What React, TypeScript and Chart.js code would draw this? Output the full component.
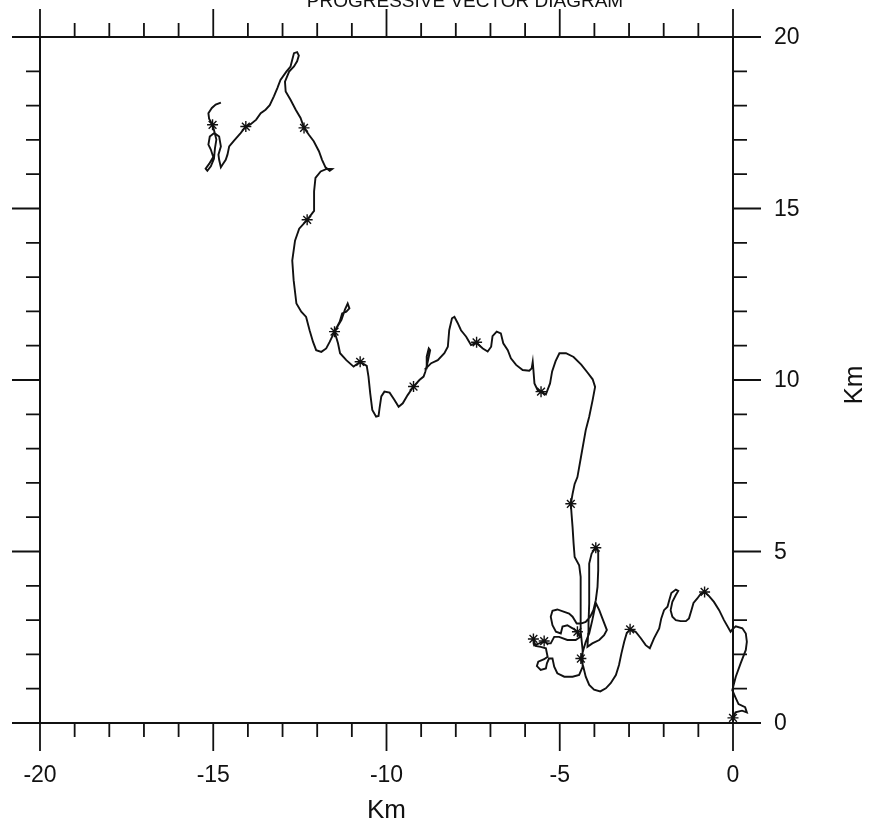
import { useEffect, useRef } from 'react';
import { Chart, registerables } from 'chart.js';

Chart.register(...registerables);

// Progressive vector track (km east, km north), in order from the origin
const pathX = [
  0, 0.07, 0.26, 0.40, 0.35, 0.16, 0.07, -0.02, 0.08, 0.22, 0.37, 0.40, 0.37, 0.27, 0.08, -0.02, -0.07,
  -0.26, -0.40, -0.55, -0.69, -0.82,
  -0.93, -1.03, -1.14, -1.20, -1.27, -1.36, -1.51, -1.65, -1.75, -1.80, -1.75, -1.65, -1.58, -1.65, -1.78, -1.84, -1.89, -1.99, -2.07, -2.13, -2.28, -2.40, -2.52, -2.66, -2.81, -2.97,
  -3.07, -3.14, -3.22, -3.29, -3.38, -3.53, -3.67, -3.83, -4.01, -4.15, -4.25, -4.32, -4.39,
  -4.32, -4.25, -4.15, -4.06, -3.98, -3.95, -3.86, -3.77, -3.64, -3.72, -3.86, -4.06, -4.20,
  -4.18, -4.17, -4.15, -4.15, -4.15, -4.08, -3.96, -3.89, -3.89, -3.91, -3.96, -4.03, -4.12, -4.25, -4.39, -4.51,
  -4.63, -4.73, -4.87, -5.07, -5.21, -5.26, -5.21, -5.11, -4.97, -4.92, -4.78, -4.63, -4.49,
  -4.42, -4.54, -4.78, -5.02, -5.16, -5.26, -5.35, -5.45, -5.59, -5.74, -5.76, -5.70, -5.55, -5.40,
  -5.35, -5.45, -5.62, -5.66, -5.55, -5.40, -5.37, -5.31, -5.21, -5.16, -5.07, -4.87, -4.63, -4.44, -4.34,
  -4.34, -4.39, -4.39, -4.39, -4.41, -4.44, -4.57, -4.60, -4.63, -4.66, -4.68, -4.63, -4.57, -4.49, -4.38,
  -4.25, -4.15, -4.05, -3.98, -4.05, -4.20, -4.38, -4.60, -4.82, -5.01, -5.12, -5.22, -5.28, -5.40, -5.54,
  -5.64, -5.73, -5.76, -5.78, -5.81, -5.88, -6.07, -6.26, -6.41, -6.50, -6.63, -6.70, -6.82, -6.94,
  -6.98, -7.08, -7.22, -7.40, -7.56, -7.70, -7.85, -7.95, -8.04, -8.11, -8.19, -8.23, -8.33, -8.52,
  -8.71, -8.86, -8.84, -8.78, -8.74, -8.81, -8.88, -8.93, -9.05, -9.22, -9.39, -9.53, -9.65, -9.77,
  -9.91, -10.06, -10.15, -10.20, -10.23, -10.30, -10.41, -10.47, -10.52, -10.57, -10.76, -10.95, -11.16,
  -11.34, -11.40, -11.50, -11.35, -11.28, -11.16, -11.07, -11.12, -11.20, -11.30, -11.50,
  -11.64, -11.74, -11.88, -12.03, -12.12, -12.22, -12.32, -12.46, -12.60, -12.68, -12.72, -12.64, -12.52, -12.29,
  -12.09, -12.09, -12.05, -11.90, -11.71, -11.57, -11.64, -11.76, -11.86, -11.95, -12.10, -12.24, -12.38,
  -12.48, -12.62, -12.77, -12.91, -12.93, -12.81, -12.67, -12.58, -12.53, -12.58, -12.67, -12.72, -12.77,
  -12.89, -13.06, -13.15, -13.25, -13.37, -13.49, -13.63, -13.76, -13.92, -14.06, -14.21, -14.40, -14.54,
  -14.59, -14.64, -14.73, -14.78, -14.83, -14.85, -14.78, -14.83, -14.97, -15.10, -15.14, -15.07, -15.00,
  -15.12, -15.22, -15.17, -15.07, -14.98, -14.95, -14.91, -14.97, -15.02, -15.12, -15.14, -15.04, -14.93, -14.78,
];
const pathY = [
  0.15, 0.31, 0.36, 0.31, 0.46, 0.55, 0.75, 0.96, 1.35, 1.74, 2.13, 2.37, 2.61, 2.76, 2.82, 2.73, 2.66,
  3.00, 3.29, 3.53, 3.70, 3.82,
  3.77, 3.63, 3.50, 3.29, 3.05, 2.97, 2.97, 3.00, 3.10, 3.29, 3.53, 3.73, 3.85, 3.89, 3.79, 3.58, 3.39, 3.29, 3.05, 2.76, 2.47, 2.18, 2.27, 2.47, 2.66, 2.73,
  2.61, 2.37, 2.03, 1.69, 1.40, 1.16, 1.01, 0.92, 0.97, 1.11, 1.35, 1.64, 1.88,
  2.13, 2.37, 2.61, 3.00, 3.39, 3.48, 3.29, 3.05, 2.71, 2.56, 2.42, 2.32, 2.22,
  2.60, 2.90, 3.48, 4.06, 4.65, 4.94, 5.11, 4.99, 4.45, 3.97, 3.58, 3.29, 3.10, 2.95, 2.90, 2.90,
  3.10, 3.19, 3.24, 3.31, 3.27, 3.10, 2.85, 2.66, 2.61, 2.81, 2.85, 2.76, 2.66,
  2.50, 2.42, 2.42, 2.51, 2.51, 2.32, 2.32, 2.39, 2.32, 2.27, 2.45, 2.25, 2.22, 2.18,
  1.93, 1.86, 1.79, 1.66, 1.55, 1.59, 1.74, 1.88, 1.88, 1.64, 1.45, 1.35, 1.35, 1.40, 1.64,
  2.13, 2.61, 3.10, 3.77, 4.26, 4.60, 4.84, 5.23, 5.71, 6.10, 6.39, 6.68, 6.97, 7.17, 7.80,
  8.54, 8.93, 9.42, 9.80, 10.02, 10.22, 10.45, 10.67, 10.78, 10.78, 10.55, 10.25, 9.90, 9.58, 9.66,
  9.71, 9.90, 10.29, 10.53, 10.34, 10.27, 10.29, 10.44, 10.63, 10.87, 11.07, 11.36, 11.41, 11.28,
  10.97, 10.83, 10.92, 11.08, 11.02, 11.26, 11.45, 11.67, 11.84, 11.80, 11.45, 10.97, 10.78, 10.58,
  10.49, 10.34, 10.68, 10.92, 10.87, 10.53, 10.24, 10.10, 10.00, 9.81, 9.56, 9.32, 9.22, 9.42,
  9.63, 9.66, 9.52, 9.18, 8.95, 8.93, 9.13, 9.61, 10.10, 10.41, 10.53, 10.39, 10.58,
  10.78, 11.07, 11.41, 11.70, 11.94, 11.99, 12.09, 12.23, 12.05, 11.75, 11.41,
  11.11, 10.92, 10.82, 10.87, 11.11, 11.45, 11.84, 11.99, 12.23, 12.91, 13.48, 14.06, 14.41, 14.67,
  14.93, 15.50, 15.89, 16.08, 16.16, 16.15, 16.10, 16.20, 16.42, 16.67, 16.96, 17.15, 17.35,
  17.64, 17.88, 18.17, 18.41, 18.70, 18.99, 19.14, 19.29, 19.46, 19.56, 19.53, 19.34, 19.14,
  18.99, 18.75, 18.51, 18.27, 18.01, 17.88, 17.78, 17.59, 17.46, 17.39, 17.20, 16.98, 16.81,
  16.57, 16.42, 16.28, 16.20, 16.42, 16.57, 16.81, 17.10, 17.20, 17.10, 16.86, 16.72, 16.50,
  16.30, 16.16, 16.10, 16.23, 16.45, 16.76, 17.01, 17.25, 17.44, 17.62, 17.78, 17.93, 18.03, 18.09,
];

// Daily position marks (asterisks)
const starX = [0, -0.82, -2.97, -4.39, -3.96, -4.49, -5.45, -5.76, -4.68, -5.54, -7.40, -9.22, -10.76, -11.50, -12.29, -12.38, -14.06, -15.02];
const starY = [0.15, 3.82, 2.73, 1.88, 5.11, 2.66, 2.39, 2.45, 6.39, 9.66, 11.10, 9.81, 10.53, 11.41, 14.67, 17.35, 17.39, 17.44];

// Axes
const xMin = -20;
const xMax = 0;
const yMin = 0;
const yMax = 20;
const xTickValues = [-20, -19, -18, -17, -16, -15, -14, -13, -12, -11, -10, -9, -8, -7, -6, -5, -4, -3, -2, -1, 0];
const yTickValues = [0, 1, 2, 3, 4, 5, 6, 7, 8, 9, 10, 11, 12, 13, 14, 15, 16, 17, 18, 19, 20];
const xMajorValues = [-20, -15, -10, -5, 0];
const yMajorValues = [0, 5, 10, 15, 20];
const xTickLabels = ['-20', '-15', '-10', '-5', '0'];
const yTickLabels = ['0', '5', '10', '15', '20'];
const xTitle = 'Km';
const yTitle = 'Km';
const chartTitle = 'PROGRESSIVE VECTOR DIAGRAM';

const FONT = '"Liberation Sans", Arial, sans-serif';

const framePlugin = {
  id: 'pvdFrame',
  afterDatasetsDraw(chart: any) {
    const { ctx, chartArea } = chart;
    const xs = chart.scales.x;
    const ys = chart.scales.y;
    const { left, right, top, bottom } = chartArea;
    ctx.save();
    ctx.strokeStyle = '#111';
    ctx.fillStyle = '#111';
    ctx.lineWidth = 2;
    ctx.lineCap = 'butt';
    ctx.strokeRect(left, top, right - left, bottom - top);

    ctx.lineWidth = 1.8;
    xTickValues.forEach((v) => {
      const px = xs.getPixelForValue(v);
      const len = xMajorValues.includes(v) ? 28 : 14;
      ctx.beginPath();
      ctx.moveTo(px, top);
      ctx.lineTo(px, top - len);
      ctx.moveTo(px, bottom);
      ctx.lineTo(px, bottom + len);
      ctx.stroke();
    });
    yTickValues.forEach((v) => {
      const py = ys.getPixelForValue(v);
      const len = yMajorValues.includes(v) ? 28 : 14;
      ctx.beginPath();
      ctx.moveTo(left, py);
      ctx.lineTo(left - len, py);
      ctx.moveTo(right, py);
      ctx.lineTo(right + len, py);
      ctx.stroke();
    });

    ctx.font = `23px ${FONT}`;
    ctx.textBaseline = 'middle';
    ctx.textAlign = 'center';
    xMajorValues.forEach((v, i) => {
      ctx.fillText(xTickLabels[i], xs.getPixelForValue(v), bottom + 53);
    });
    ctx.textAlign = 'left';
    yMajorValues.forEach((v, i) => {
      ctx.fillText(yTickLabels[i], right + 41, ys.getPixelForValue(v) + 1);
    });

    ctx.font = `26px ${FONT}`;
    ctx.textAlign = 'center';
    ctx.fillText(xTitle, (left + right) / 2, bottom + 88);
    ctx.save();
    ctx.translate(right + 122, (top + bottom) / 2 + 5);
    ctx.rotate(-Math.PI / 2);
    ctx.fillText(yTitle, 0, 0);
    ctx.restore();

    ctx.font = `19px ${FONT}`;
    ctx.textBaseline = 'alphabetic';
    ctx.fillText(chartTitle, 465, 7);
    ctx.restore();
  },
};

export default function App() {
  const ref = useRef<HTMLCanvasElement | null>(null);
  useEffect(() => {
    if (!ref.current) return;
    const chart = new Chart(ref.current, {
      type: 'scatter',
      data: {
        datasets: [
          {
            label: 'track',
            data: pathX.map((x, i) => ({ x, y: pathY[i] })),
            showLine: true,
            borderColor: '#111',
            borderWidth: 1.9,
            pointRadius: 0,
            tension: 0,
            clip: false,
          },
          {
            label: 'days',
            data: starX.map((x, i) => ({ x, y: starY[i] })),
            showLine: false,
            pointStyle: 'star',
            pointRadius: 5.5,
            borderColor: '#111',
            backgroundColor: '#111',
            borderWidth: 1.4,
            clip: false,
          },
        ],
      },
      options: {
        responsive: false,
        animation: false,
        devicePixelRatio: 1,
        layout: { padding: { left: 40, right: 137, top: 37, bottom: 102 } },
        plugins: { legend: { display: false }, tooltip: { enabled: false }, title: { display: false } },
        scales: {
          x: { type: 'linear', min: xMin, max: xMax, display: false },
          y: { type: 'linear', min: yMin, max: yMax, display: false },
        },
      },
      plugins: [framePlugin],
    });
    return () => chart.destroy();
  }, []);
  return (
    <div style={{ position: 'absolute', left: 0, top: 0, width: 870, height: 825, background: '#fff' }}>
      <canvas ref={ref} width={870} height={825} style={{ display: 'block', width: 870, height: 825 }} />
    </div>
  );
}
